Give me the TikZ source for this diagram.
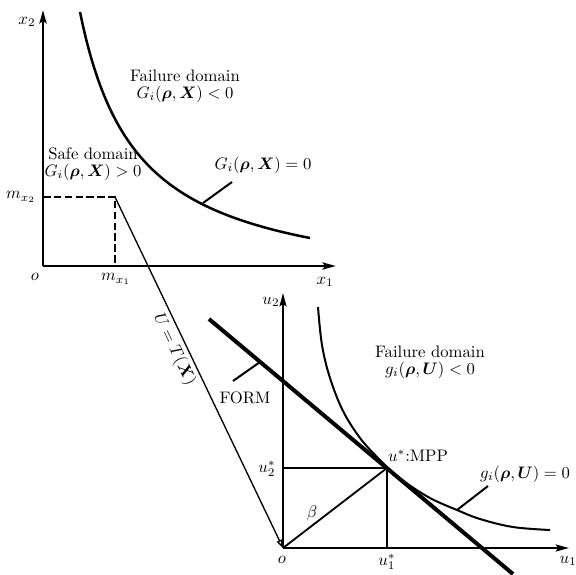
\documentclass[tikz,border=0pt]{standalone}
\usepackage{amsmath,bm}
\usetikzlibrary{arrows.meta}
\begin{document}
\begin{tikzpicture}[x=0.6pt,y=-0.6pt,
  font=\fontsize{10}{12}\selectfont,
  axisA/.style={line width=1.6pt,-{Stealth[length=8pt,width=4.2pt,inset=1.5pt]}},
  axisB/.style={line width=1.3pt,-{Stealth[length=8pt,width=4.2pt,inset=1.5pt]}},
  curveA/.style={line width=1.5pt},
  curveB/.style={line width=1.2pt},
  dashln/.style={line width=1.4pt,dash pattern=on 4.5pt off 2pt},
  thin1/.style={line width=1.1pt},
  leader/.style={line width=1.2pt},
  formln/.style={line width=2.4pt},
  trans/.style={line width=0.8pt,-{Triangle[open,length=5pt,width=3.5pt]}},
  lbl/.style={inner sep=1pt}]
\useasboundingbox (0,0) rectangle (576,574);
% ---------- top plot ----------
\coordinate (O1) at (43,266);
\coordinate (X2tip) at (43,10);
\coordinate (X1tip) at (336,266);
\coordinate (M) at (115,197);
\coordinate (MY) at (43,197);
\coordinate (MX) at (115,266);
\draw[axisA] (O1) -- (X2tip);
\draw[axisA] (O1) -- (X1tip);
\draw[curveA] plot[domain=37:267,samples=80] ({43+\x},{266-(162.33/(\x+20.47)*100-28.47)});
\draw[dashln] (MY) -- (M) -- (MX);
\coordinate (GA) at (203,203);
\coordinate (GB) at (232,182);
\draw[leader] (GA) -- (GB);
\node[lbl] (lx2) at (27,22) {$x_2$};
\node[lbl] (lo1) at (35,277) {$o$};
\node[lbl] (lx1) at (325,282) {$x_1$};
\node[lbl] (lmx2) at (21,197) {$m_{x_2}$};
\node[lbl] (lmx1) at (116,279) {$m_{x_1}$};
\node[lbl,align=center] (fd1) at (185,86) {Failure domain\\[-2pt]$G_i(\bm{\rho},\bm{X})<0$};
\node[lbl,align=center] (sd1) at (93,164) {Safe domain\\[-2pt]$G_i(\bm{\rho},\bm{X})>0$};
\node[lbl] (g0) at (263,165) {$G_i(\bm{\rho},\bm{X})=0$};
% ---------- bottom plot ----------
\coordinate (O2) at (283,548);
\coordinate (U2tip) at (283,293);
\coordinate (U1tip) at (569,548);
\coordinate (P) at (387,468);
\coordinate (PY) at (283,468);
\coordinate (PX) at (387,548);
\coordinate (FA) at (209,319);
\coordinate (FB) at (513,574);
\draw[axisB] (O2) -- (U2tip);
\draw[axisB] (O2) -- (U1tip);
\draw[formln] (FA) -- (FB);
\draw[curveB] plot[smooth,tension=0.6] coordinates {(318,307) (322,345) (330,378) (343,411) (360,438) (377,457) (387,467) (405,482) (430,498) (457,510) (480,519) (513,527) (550,530)};
\draw[thin1] (PY) -- (P) -- (PX);
\draw[thin1] (O2) -- (P);
\coordinate (LA) at (260,362);
\coordinate (LB) at (233,381);
\draw[leader] (LA) -- (LB);
\coordinate (KA) at (457,510);
\coordinate (KB) at (488,486);
\draw[leader] (KA) -- (KB);
\node[lbl] (lu2) at (271,302) {$u_2$};
\node[lbl] (lo2) at (282,560) {$o$};
\node[lbl] (lu1) at (568,561) {$u_1$};
\node[lbl] (lu2s) at (267,469) {$u_2^*$};
\node[lbl] (lu1s) at (387,562) {$u_1^*$};
\node[lbl] (lbeta) at (312,513) {$\beta$};
\node[lbl] (lmpp) at (418,456) {$u^*$:MPP};
\node[lbl] (lform) at (245,398) {FORM};
\node[lbl,align=center] (fd2) at (430,362) {Failure domain\\[-2pt]$g_i(\bm{\rho},\bm{U})<0$};
\node[lbl] (lg0) at (525,474) {$g_i(\bm{\rho},\bm{U})=0$};
% ---------- transformation ----------
\draw[trans] (M) -- (O2) node[pos=0.42,sloped,below=2pt,inner sep=0pt] (tl) {$U=T(\bm{X})$};
\end{tikzpicture}
\end{document}
